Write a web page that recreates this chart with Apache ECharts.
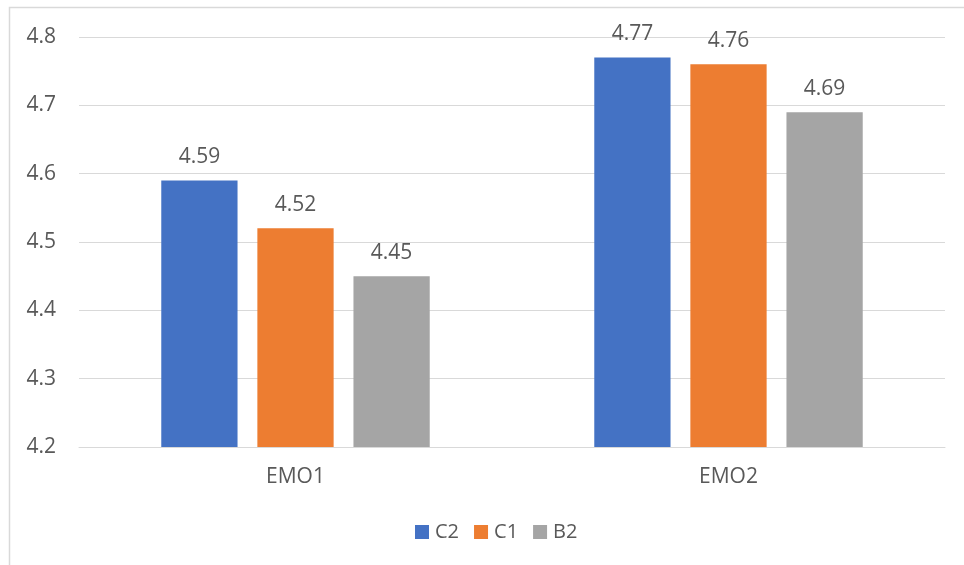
<!DOCTYPE html>
<html>
<head>
<meta charset="utf-8">
<script src="https://cdn.jsdelivr.net/npm/echarts@6/dist/echarts.min.js"></script>
<style>
  html, body { margin: 0; padding: 0; background: #ffffff; }
  #chart { width: 964px; height: 565px; }
</style>
</head>
<body>
<div id="chart"></div>
<script>
// Categories and series values
const categories = ['EMO1', 'EMO2'];
const seriesNames = ['C2', 'C1', 'B2'];
const valuesC2 = [4.59, 4.77];
const valuesC1 = [4.52, 4.76];
const valuesB2 = [4.45, 4.69];
const yTicks = [4.2, 4.3, 4.4, 4.5, 4.6, 4.7, 4.8];

const colors = ['#4472C4', '#ED7D31', '#A5A5A5'];
const textColor = '#595959';
const fontFamily = 'Open Sans, Liberation Sans, sans-serif';

const seriesData = [valuesC2, valuesC1, valuesB2];

const chart = echarts.init(document.getElementById('chart'), null, { renderer: 'canvas' });

chart.setOption({
  animation: false,
  backgroundColor: '#ffffff',
  color: colors,
  graphic: [{
    type: 'rect',
    shape: { x: 9.5, y: 7.5, width: 1000, height: 1000 },
    style: { fill: 'none', stroke: '#D9D9D9', lineWidth: 1.5 },
    silent: true
  }],
  grid: { left: 79, right: 19, top: 37, bottom: 118, containLabel: false },
  legend: {
    bottom: 18,
    left: 410,
    itemWidth: 14,
    itemHeight: 14,
    itemGap: 15,
    icon: 'rect',
    textStyle: { color: textColor, fontSize: 20, fontFamily: fontFamily, padding: [0, 0, 0, 1] },
    data: seriesNames
  },
  xAxis: {
    type: 'category',
    data: categories,
    axisLine: { show: true, lineStyle: { color: '#D9D9D9', width: 1 } },
    axisTick: { show: false },
    axisLabel: { color: textColor, fontSize: 21, fontFamily: fontFamily, margin: 20 }
  },
  yAxis: {
    type: 'value',
    min: yTicks[0],
    max: yTicks[yTicks.length - 1],
    interval: 0.1,
    axisLine: { show: false },
    axisTick: { show: false },
    axisLabel: {
      color: textColor, fontSize: 21, fontFamily: fontFamily, margin: 23,
      formatter: v => v.toFixed(1)
    },
    splitLine: { lineStyle: { color: '#D9D9D9', width: 1 } }
  },
  series: seriesNames.map((name, i) => ({
    name: name,
    type: 'bar',
    data: seriesData[i],
    barGap: '26%',
    barCategoryGap: '38%',
    itemStyle: { color: colors[i] },
    label: {
      show: true,
      position: 'top',
      distance: 13,
      color: textColor,
      fontSize: 21,
      fontFamily: fontFamily,
      formatter: p => p.value.toFixed(2)
    }
  }))
});
</script>
</body>
</html>
